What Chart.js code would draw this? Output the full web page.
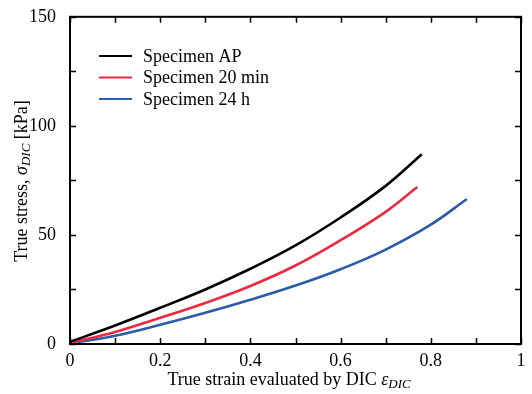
<!DOCTYPE html>
<html>
<head>
<meta charset="utf-8">
<script src="https://cdn.jsdelivr.net/npm/chart.js@4/dist/chart.umd.min.js"></script>
<style>
  html, body { margin: 0; padding: 0; background: #fff; }
  #wrap { width: 532px; height: 394px; }
</style>
</head>
<body>
<div id="wrap"><canvas id="chart" width="532" height="394"></canvas></div>
<script>
// data
const strainAP = [0, 0.1, 0.2, 0.3, 0.4, 0.5, 0.6, 0.7, 0.78];
const stressAP = [1, 8.5, 16.6, 25, 34.5, 45.2, 58, 72.5, 87];

const strain20 = [0, 0.1, 0.2, 0.3, 0.4, 0.5, 0.6, 0.7, 0.77];
const stress20 = [0.5, 5.5, 12, 18.8, 26.6, 36, 47.6, 60.6, 72];

const strain24 = [0, 0.1, 0.2, 0.3, 0.4, 0.5, 0.6, 0.7, 0.8, 0.88];
const stress24 = [0.3, 3.8, 8.8, 14.3, 20.3, 26.8, 34.3, 43.3, 54.7, 66.5];

const seriesLabels = ["Specimen AP", "Specimen 20 min", "Specimen 24 h"];
const seriesColors = ["#000000", "#ec2a3f", "#2b5ca8"];

const xTicks = [0, 0.1, 0.2, 0.3, 0.4, 0.5, 0.6, 0.7, 0.8, 0.9, 1];
const yTicks = [0, 25, 50, 75, 100, 125, 150];

const serif = "'Liberation Serif', 'Times New Roman', serif";

function toPoints(xs, ys) {
    return xs.map((x, i) => ({ x: x, y: ys[i] }));
}

// draws text runs: [text, italic, sub]
function drawRuns(ctx, runs, size, cx, cy) {
    const widths = runs.map(r => {
        ctx.font = (r[1] ? 'italic ' : '') + (r[2] ? size * 0.72 : size) + 'px ' + serif;
        return ctx.measureText(r[0]).width;
    });
    const total = widths.reduce((a, b) => a + b, 0);
    let x = cx - total / 2;
    runs.forEach((r, i) => {
        ctx.font = (r[1] ? 'italic ' : '') + (r[2] ? size * 0.72 : size) + 'px ' + serif;
        ctx.fillText(r[0], x, cy + (r[2] ? size * 0.28 : 0));
        x += widths[i];
    });
}

const framePlugin = {
    id: 'frame',
    afterDraw(chart) {
        const ctx = chart.ctx;
        const area = chart.chartArea;
        const xs = chart.scales.x, ys = chart.scales.y;
        ctx.save();
        ctx.strokeStyle = '#000';
        ctx.lineWidth = 2;
        ctx.strokeRect(area.left, area.top, area.right - area.left, area.bottom - area.top);

        // inward ticks on all four sides
        ctx.lineWidth = 1.5;
        ctx.beginPath();
        xTicks.forEach(v => {
            const px = Math.round(xs.getPixelForValue(v)) + 0.5;
            ctx.moveTo(px, area.bottom); ctx.lineTo(px, area.bottom - 6);
            ctx.moveTo(px, area.top); ctx.lineTo(px, area.top + 6);
        });
        yTicks.forEach(v => {
            const py = Math.round(ys.getPixelForValue(v)) + 0.5;
            ctx.moveTo(area.left, py); ctx.lineTo(area.left + 6, py);
            ctx.moveTo(area.right, py); ctx.lineTo(area.right - 6, py);
        });
        ctx.stroke();

        // legend
        ctx.textBaseline = 'middle';
        ctx.textAlign = 'left';
        ctx.font = '18px ' + serif;
        seriesLabels.forEach((lab, i) => {
            const y = 56 + i * 21.5;
            ctx.strokeStyle = seriesColors[i];
            ctx.lineWidth = 2;
            ctx.beginPath();
            ctx.moveTo(99, y); ctx.lineTo(132, y);
            ctx.stroke();
            ctx.fillStyle = '#000';
            ctx.fillText(lab, 143, y + 1);
        });

        // axis titles
        ctx.fillStyle = '#000';
        ctx.textBaseline = 'middle';
        drawRuns(ctx, [["True strain evaluated by DIC ", false, false], ["\u03b5", true, false], ["DIC", true, true]], 18, 289, 380);
        ctx.translate(22, 181);
        ctx.rotate(-Math.PI / 2);
        drawRuns(ctx, [["True stress, ", false, false], ["\u03c3", true, false], ["DIC", true, true], [" [kPa]", false, false]], 18, 0, 0);
        ctx.restore();
    }
};

const datasets = [
    toPoints(strainAP, stressAP),
    toPoints(strain20, stress20),
    toPoints(strain24, stress24)
].map((pts, i) => ({
    label: seriesLabels[i],
    data: pts,
    borderColor: seriesColors[i],
    borderWidth: 2.6,
    pointRadius: 0,
    fill: false,
    tension: 0.4
}));

new Chart(document.getElementById('chart').getContext('2d'), {
    type: 'line',
    data: { datasets: datasets },
    plugins: [framePlugin],
    options: {
        responsive: false,
        animation: false,
        layout: { padding: { top: 14, right: 11, left: 0, bottom: 0 } },
        plugins: { legend: { display: false }, tooltip: { enabled: false } },
        scales: {
            x: {
                type: 'linear', min: 0, max: 1,
                grid: { display: false },
                border: { display: false },
                afterFit: s => { s.height = 50; },
                afterBuildTicks: s => { s.ticks = [0, 0.2, 0.4, 0.6, 0.8, 1].map(v => ({ value: v })); },
                ticks: {
                    padding: -2, color: '#000', maxRotation: 0,
                    font: { family: serif, size: 18 },
                    callback: v => String(Math.round(v * 10) / 10)
                }
            },
            y: {
                type: 'linear', min: 0, max: 150,
                grid: { display: false },
                border: { display: false },
                afterFit: s => { s.width = 70; },
                afterBuildTicks: s => { s.ticks = [0, 50, 100, 150].map(v => ({ value: v })); },
                ticks: {
                    padding: 6, color: '#000',
                    font: { family: serif, size: 18 }
                }
            }
        }
    }
});
</script>
</body>
</html>
